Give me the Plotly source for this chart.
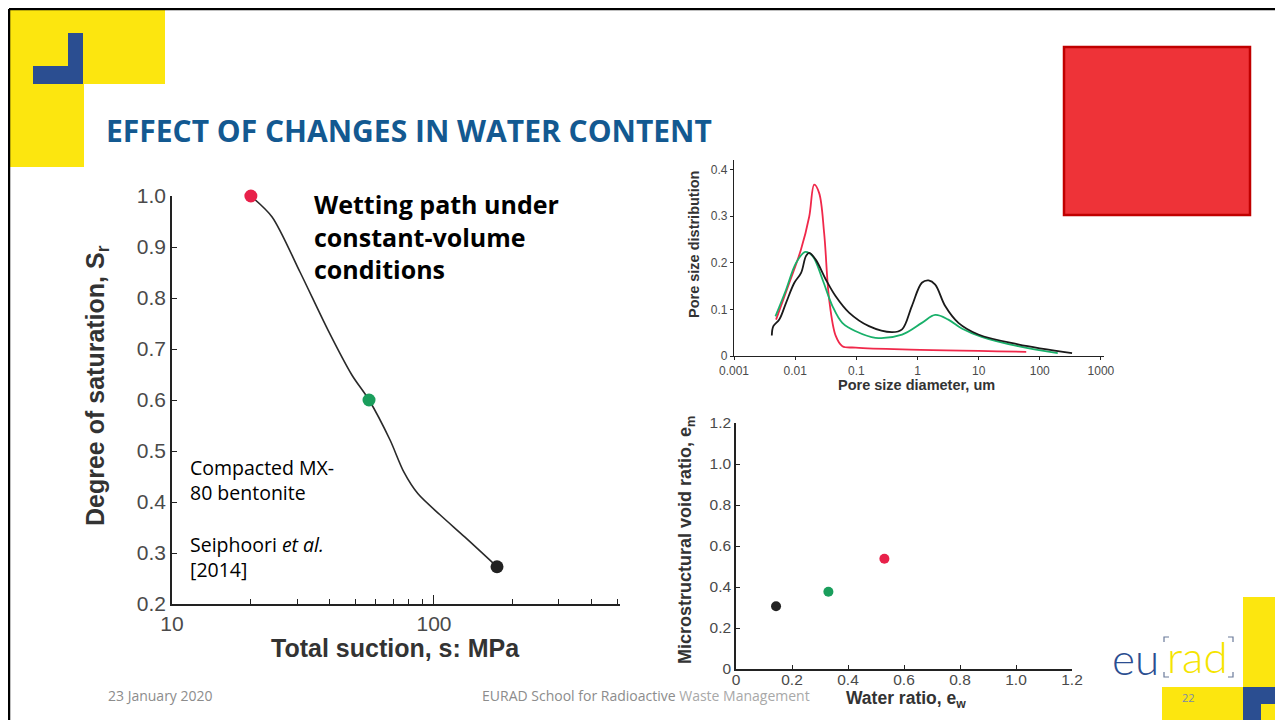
import plotly.graph_objects as go

# the page puts an 8px body margin round the plot, so the figure is drawn
# 8px smaller and every screen position is shifted back by that margin
OFF = 8
W, H = 1283 - OFF, 720 - OFF

# wetting path (left chart)
suction = [20, 24.1, 30.8, 39.4, 48.6, 56.5, 67.9, 76.7, 86.9, 105.4, 131.3, 174]
saturation = [1.0, 0.959, 0.851, 0.737, 0.649, 0.60, 0.522, 0.459, 0.416, 0.375, 0.331, 0.273]
state_suction = [20, 56.5, 174]
state_saturation = [1.0, 0.60, 0.273]
state_colors = ["#e8214a", "#1a9e5c", "#222222"]

# pore size distribution (top right)
red_d = [0.00487, 0.00804, 0.01245, 0.0170, 0.0205, 0.0247, 0.0298, 0.036, 0.0461, 0.0592, 0.098, 0.56, 60]
red_p = [0.078, 0.157, 0.228, 0.299, 0.367, 0.349, 0.263, 0.121, 0.043, 0.021, 0.018, 0.014, 0.009]
green_d = [0.00476, 0.0071, 0.0103, 0.0146, 0.0193, 0.028, 0.0407, 0.059, 0.098, 0.206, 0.56, 1.18, 1.95, 3.2, 5.3, 11.2, 44, 197]
green_p = [0.085, 0.142, 0.199, 0.223, 0.214, 0.164, 0.107, 0.071, 0.053, 0.039, 0.046, 0.071, 0.088, 0.078, 0.059, 0.041, 0.021, 0.006]
black_d = [0.00415, 0.0044, 0.0055, 0.0071, 0.0097, 0.0125, 0.015, 0.017, 0.0218, 0.0317, 0.046, 0.076, 0.161, 0.385, 0.56, 0.81, 1.18, 1.52, 1.95, 2.84, 4.67, 9.9, 44, 337]
black_p = [0.044, 0.064, 0.078, 0.114, 0.157, 0.178, 0.214, 0.221, 0.206, 0.164, 0.128, 0.093, 0.064, 0.051, 0.057, 0.107, 0.157, 0.162, 0.153, 0.107, 0.071, 0.046, 0.025, 0.006]

# micro void ratio vs water ratio (bottom right)
water_ratio = [0.143, 0.330, 0.530]
micro_void = [0.306, 0.377, 0.538]
point_colors = ["#222222", "#1a9e5c", "#e8214a"]


def px(x):
    return (x - OFF) / W


def py(y):
    return 1 - (y - OFF) / H


fig = go.Figure()

# left chart
fig.add_trace(go.Scatter(x=suction, y=saturation, mode="lines",
                         line=dict(color="#2a2a2a", width=1.6, shape="spline", smoothing=0.8),
                         xaxis="x", yaxis="y", hoverinfo="skip"))
fig.add_trace(go.Scatter(x=state_suction, y=state_saturation, mode="markers",
                         marker=dict(size=13, color=state_colors), xaxis="x", yaxis="y", cliponaxis=False))

# top right chart
fig.add_trace(go.Scatter(x=red_d, y=red_p, mode="lines", line=dict(color="#f0284a", width=1.8, shape="spline"),
                         xaxis="x2", yaxis="y2"))
fig.add_trace(go.Scatter(x=green_d, y=green_p, mode="lines", line=dict(color="#19b06a", width=1.8, shape="spline"),
                         xaxis="x2", yaxis="y2"))
fig.add_trace(go.Scatter(x=black_d, y=black_p, mode="lines", line=dict(color="#1a1a1a", width=1.8, shape="spline"),
                         xaxis="x2", yaxis="y2"))

# bottom right chart
fig.add_trace(go.Scatter(x=water_ratio, y=micro_void, mode="markers", marker=dict(size=10, color=point_colors),
                         xaxis="x3", yaxis="y3"))

axis_font = dict(family="Arial, Liberation Sans", color="#4a4a4a")
common = dict(showline=True, linecolor="#222", showgrid=False, zeroline=False, automargin=False, tickcolor="#222")

fig.update_layout(
    width=W, height=H,
    margin=dict(l=0, r=0, t=0, b=0, autoexpand=False),
    paper_bgcolor="white", plot_bgcolor="rgba(0,0,0,0)",
    showlegend=False,
    xaxis=dict(type="log", domain=[px(172), px(620)], range=[1, 2.71], anchor="y", linewidth=1.5,
               tickvals=[10, 100], ticktext=["10", "100"], ticks="inside", ticklen=9,
               minor=dict(tickvals=[20, 30, 40, 50, 60, 70, 80, 90, 200, 300, 400, 500], ticks="inside",
                          ticklen=5, tickcolor="#222"),
               tickfont=dict(size=21, **axis_font), **common),
    yaxis=dict(domain=[py(604), py(196)], range=[0.2, 1.0], anchor="x", linewidth=1.5,
               tickvals=[0.2, 0.3, 0.4, 0.5, 0.6, 0.7, 0.8, 0.9, 1.0], tickformat=".1f",
               ticks="inside", ticklen=5, tickfont=dict(size=21, **axis_font), **common),
    xaxis2=dict(type="log", domain=[px(734), px(1104)], range=[-3, 3.05], anchor="y2", linewidth=1.2,
                tickvals=[0.001, 0.01, 0.1, 1, 10, 100, 1000],
                ticktext=["0.001", "0.01", "0.1", "1", "10", "100", "1000"],
                ticks="outside", ticklen=3, tickfont=dict(size=12, **axis_font), **common),
    yaxis2=dict(domain=[py(356), py(160)], range=[0, 0.42], anchor="x2", linewidth=1.2,
                tickvals=[0, 0.1, 0.2, 0.3, 0.4], ticktext=["0", "0.1", "0.2", "0.3", "0.4"],
                ticks="outside", ticklen=3, tickfont=dict(size=12, **axis_font), **common),
    xaxis3=dict(domain=[px(736), px(1072)], range=[0, 1.2], anchor="y3", linewidth=1.5,
                tickvals=[0, 0.2, 0.4, 0.6, 0.8, 1.0, 1.2], ticktext=["0", "0.2", "0.4", "0.6", "0.8", "1.0", "1.2"],
                ticks="inside", ticklen=4, ticklabelstandoff=-4,
                tickfont=dict(size=15.5, **axis_font), **common),
    yaxis3=dict(domain=[py(669), py(423)], range=[0, 1.2], anchor="x3", linewidth=1.5,
                tickvals=[0, 0.2, 0.4, 0.6, 0.8, 1.0, 1.2], ticktext=["0", "0.2", "0.4", "0.6", "0.8", "1.0", "1.2"],
                ticks="inside", ticklen=4, tickfont=dict(size=15.5, **axis_font), **common),
)

# slide decoration
yellow = "#fce60f"
blue = "#2b4e91"


def rect(x0, y0, x1, y1, color, line=None):
    d = dict(type="rect", xref="paper", yref="paper", x0=px(x0), x1=px(x1), y0=py(y1), y1=py(y0),
             fillcolor=color, layer="below", line=dict(width=0))
    if line:
        d["line"] = line
        d["layer"] = "above"
    return d


shapes = [
    # frame
    dict(type="line", xref="paper", yref="paper", x0=px(9), x1=px(9), y0=0, y1=py(9), line=dict(color="black", width=2.5)),
    dict(type="line", xref="paper", yref="paper", x0=px(9), x1=1, y0=py(9), y1=py(9), line=dict(color="black", width=2.5)),
    # top left logo
    rect(9, 10, 165, 84, yellow),
    rect(9, 84, 84, 167, yellow),
    rect(68, 33, 83, 84, blue),
    rect(33, 66, 83, 84, blue),
    # red box
    rect(1064, 47, 1250, 215, "#ee3338", line=dict(color="#c00000", width=2.5)),
    # bottom right blocks
    rect(1243, 597, 1283, 720, yellow),
    rect(1162, 687, 1243, 720, yellow),
    rect(1243, 687, 1283, 720, blue),
    rect(1261, 704, 1283, 720, yellow),
]
# bracket corners around "rad"
bc = "#6a7a9a"
for (cx, cy, dx, dy) in [(1164, 637, 1, 1), (1233, 637, -1, 1), (1164, 677, 1, -1), (1233, 677, -1, -1)]:
    shapes.append(dict(type="path", xref="paper", yref="paper",
                       path=f"M {px(cx + 5 * dx)},{py(cy)} L {px(cx)},{py(cy)} L {px(cx)},{py(cy + 5 * dy)}",
                       line=dict(color=bc, width=1.2)))
fig.update_layout(shapes=shapes)

ann = []


def text(x, y, s, size, color="black", family="Open Sans", xanchor="left", angle=0, bold=False, weight=None):
    f = dict(size=size, color=color, family=family)
    if bold:
        f["weight"] = "bold"
    if weight:
        f["weight"] = weight
    ann.append(dict(x=px(x), y=py(y), xref="paper", yref="paper", text=s, showarrow=False,
                    xanchor=xanchor, yanchor="middle", align="left", font=f, textangle=angle))


text(104, 130, "EFFECT OF CHANGES IN WATER CONTENT", 30, color="#135991", bold=True)
text(312, 236, "Wetting path under<br>constant-volume<br>conditions", 25, bold=True)
text(188, 480, "Compacted MX-<br>80 bentonite", 19.5)
text(188, 557, "Seiphoori <i>et al.</i><br>[2014]", 19.5)

text(97, 386, "Degree of saturation, S<sub>r</sub>", 25, color="#333", family="Arial", xanchor="center", angle=-90, bold=True)
text(395, 648, "Total suction, s: MPa", 25, color="#333", family="Arial", xanchor="center", bold=True)
text(694, 245, "Pore size distribution", 14.5, color="#333", family="Arial", xanchor="center", angle=-90, bold=True)
text(917, 385, "Pore size diameter, um", 14.5, color="#333", family="Arial", xanchor="center", bold=True)
text(686, 540, "Microstructural void ratio, e<sub>m</sub>", 18, color="#333", family="Arial", xanchor="center", angle=-90, bold=True)
text(906, 699, "Water ratio, e<sub>w</sub>", 17.5, color="#333", family="Arial", xanchor="center", bold=True)

text(106, 695, "23 January 2020", 14, color="#8c8c8c")
text(480, 695, "EURAD School for Radioactive <span style='color:#a8a8a8'>Waste Management</span>", 14, color="#8c8c8c")
text(1180, 697, "22", 11, color="#7a8aa8")
text(1110, 658, "eu", 44, color=blue, family="Lato, Open Sans", weight=300)
text(1165, 656, "rad", 44, color="#f5e400", family="Lato, Open Sans", weight=300)

fig.update_layout(annotations=ann)

fig.write_html("out.html")
